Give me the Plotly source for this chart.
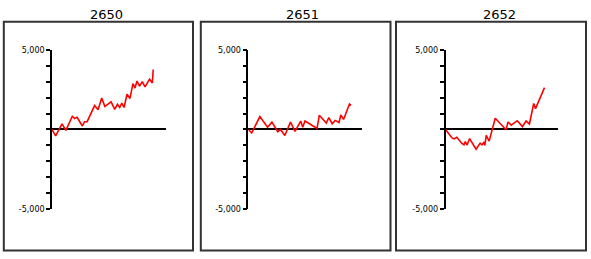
import plotly.graph_objects as go

W, H = 591, 259

titles = ["2650", "2651", "2652"]

x_2650 = [0, 1.6, 4.4, 6.1, 8.9, 9.9, 11, 13.3, 14.3, 15.4, 18.7, 20.2, 21.8, 23.2, 25.9, 27.5,
          28.7, 29.7, 30.6, 31.6, 32.9, 34.2, 35.5, 36.4, 37.3, 38.4, 39.6, 40.8, 42.8, 44, 44.4]
y_2650 = [0, -400, 350, -60, 830, 690, 770, 220, 490, 490, 1500, 1240, 1970, 1440, 1740, 1260,
          1580, 1380, 1660, 1380, 2210, 1950, 2880, 2600, 3040, 2720, 3000, 2680, 3160, 2920, 3770]

x_2651 = [0, 1.5, 5.1, 8.5, 10.4, 13, 14.2, 16.1, 18.6, 20.6, 23.1, 24, 25, 30.3, 31.3, 34.4,
          35.5, 37, 38.3, 40, 40.8, 42, 44.6, 45.3]
y_2651 = [0, -220, 810, 140, 460, -140, 0, -380, 460, -120, 530, 140, 530, 60, 890, 400,
          750, 360, 570, 440, 910, 630, 1600, 1520]

x_2652 = [0, 2.9, 3.8, 5, 7.3, 8.2, 8.8, 9.6, 10.7, 13.6, 15.4, 16.2, 17, 17.5, 18.1, 19.4,
          22.1, 26.9, 27.8, 29.2, 31.9, 34.2, 35.8, 37.3, 39.2, 40, 44]
y_2652 = [0, -530, -590, -490, -880, -960, -760, -980, -570, -1240, -860, -960, -820, -1000, -370, -730,
          710, -20, 470, 270, 550, 180, 530, 350, 1630, 1310, 2630]

series = [(x_2650, y_2650), (x_2651, y_2651), (x_2652, y_2652)]

tick_vals = [-5000, -4000, -3000, -2000, -1000, 0, 1000, 2000, 3000, 4000, 5000]
tick_text = ["-5,000", "", "", "", "", "", "", "", "", "", "5,000"]

# pixel geometry
axis_left = [52, 248.3, 445.5]
axis_right = [166, 361.7, 558]
box_left = [3.8, 200.8, 396]
box_right = [193, 390.5, 586]
title_x = [106.3, 302, 499.3]
y_top_px, y_bot_px = 47.5, 212.5
box_top, box_bot = 18.3, 255.5

fig = go.Figure()
shapes = []
annotations = []
for i, (xs, ys) in enumerate(series):
    n = "" if i == 0 else str(i + 1)
    fig.add_trace(go.Scatter(x=xs, y=ys, mode="lines",
                             line=dict(color="#ff0000", width=1.6),
                             xaxis="x" + n, yaxis="y" + n, showlegend=False,
                             hoverinfo="skip"))
    fig.layout["xaxis" + n] = dict(domain=[axis_left[i] / W, axis_right[i] / W],
                                   range=[0, 50], visible=False, anchor="y" + n,
                                   fixedrange=True)
    fig.layout["yaxis" + n] = dict(domain=[1 - y_bot_px / H, 1 - y_top_px / H],
                                   range=[-5000, 5000], anchor="x" + n,
                                   tickvals=tick_vals, ticktext=tick_text,
                                   ticks="outside", ticklen=4, tickwidth=1.5,
                                   tickcolor="black", showline=True,
                                   linecolor="black", linewidth=1.5,
                                   showgrid=False, zeroline=True,
                                   zerolinecolor="black", zerolinewidth=1.6,
                                   tickfont=dict(family="DejaVu Sans", size=8, color="black"),
                                   fixedrange=True)
    shapes.append(dict(type="rect", xref="paper", yref="paper",
                       x0=box_left[i] / W, x1=box_right[i] / W,
                       y0=1 - box_bot / H, y1=1 - box_top / H,
                       line=dict(color="#333333", width=2), fillcolor="rgba(0,0,0,0)"))
    annotations.append(dict(text=titles[i], xref="paper", yref="paper",
                            x=title_x[i] / W, y=1 - 10.7 / H, showarrow=False,
                            xanchor="center", yanchor="middle",
                            font=dict(family="DejaVu Sans", size=13, color="black")))

fig.update_layout(width=W, height=H, margin=dict(l=0, r=0, t=0, b=0),
                  paper_bgcolor="white", plot_bgcolor="white",
                  shapes=shapes, annotations=annotations)

fig.write_html("out.html")
